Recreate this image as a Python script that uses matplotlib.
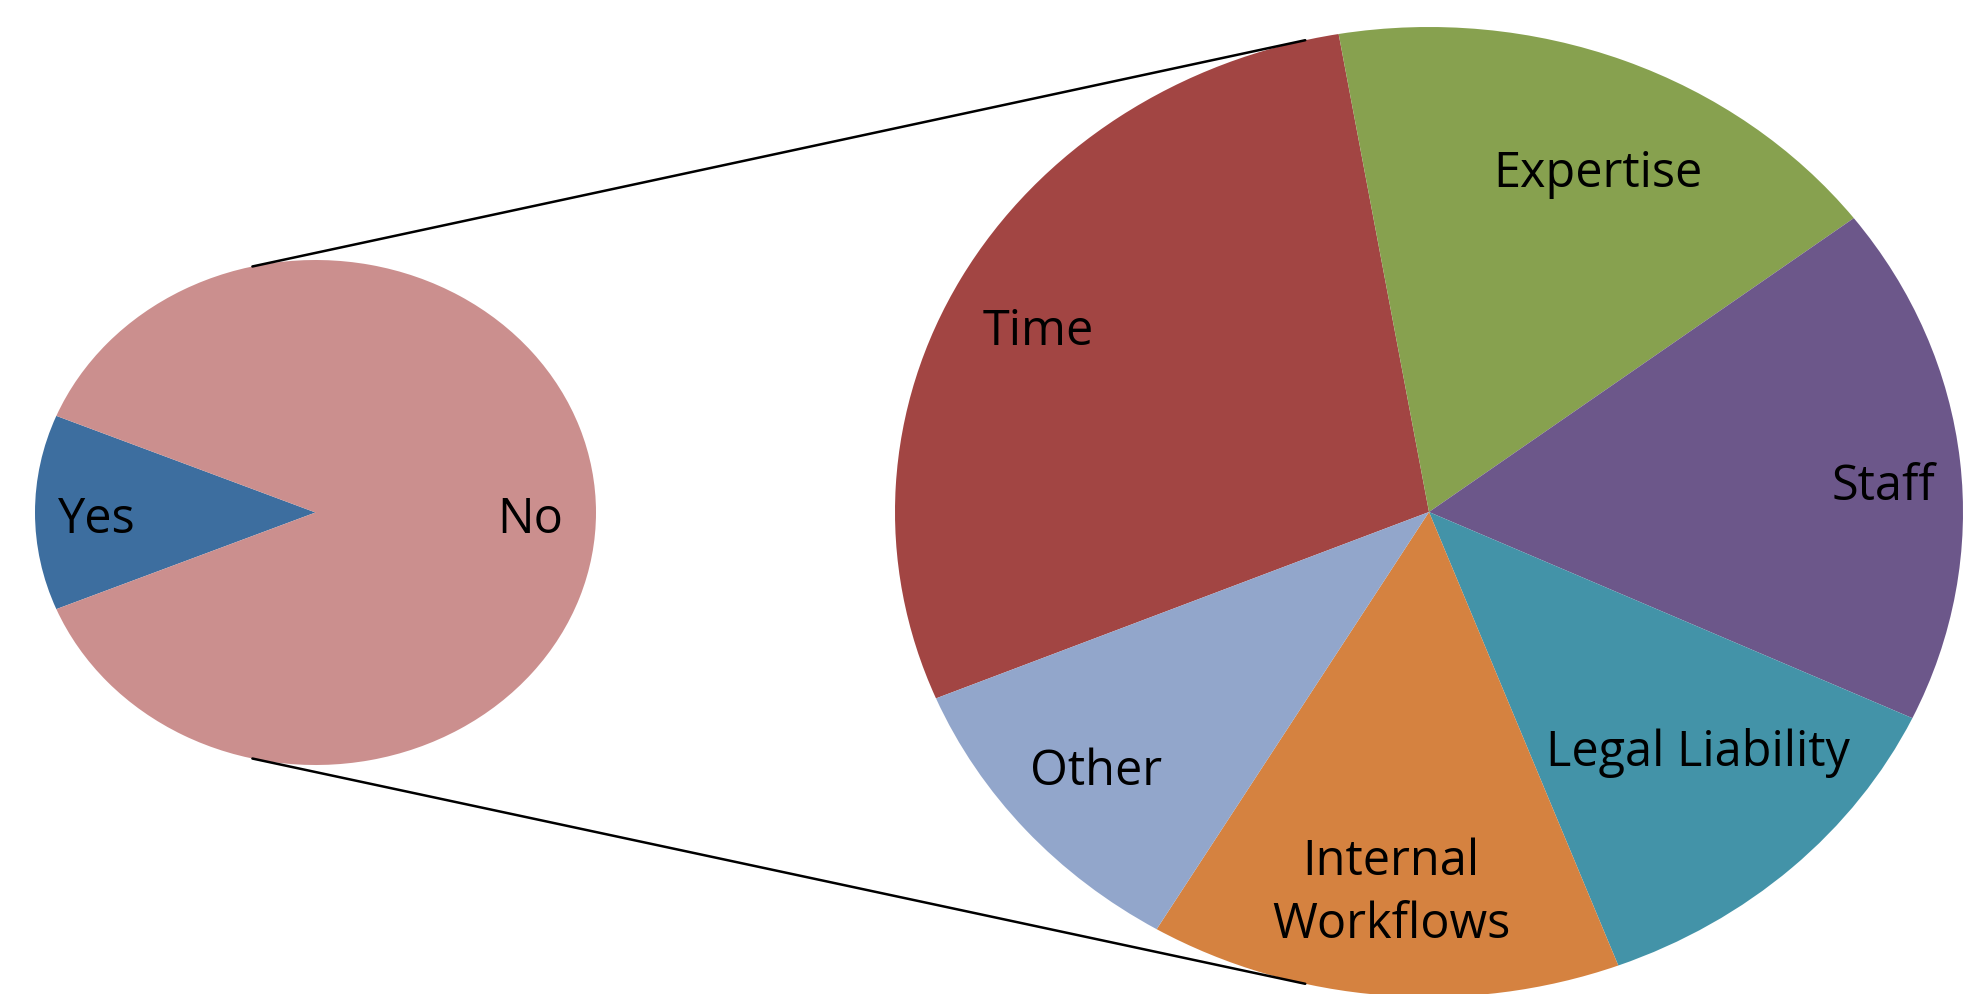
import matplotlib
matplotlib.use('Agg')
import matplotlib.pyplot as plt
from matplotlib.patches import ConnectionPatch
import numpy as np

# first pie
answer_labels = ['Yes', 'No']
answer_counts = [14, 98]
answer_colors = ['#3D6E9F', '#CB8F8E']

# second pie: breakdown of the "No" slice
reason_labels = ['Time', 'Expertise', 'Staff', 'Legal Liability',
                 'Internal\nWorkflows', 'Other']
reason_counts = [28, 17, 17, 12, 14, 10]
reason_colors = ['#A24543', '#87A14F', '#6C578A', '#4393A8', '#D58240', '#92A6CB']

# label placement: fraction of radius + small angle nudge (deg) from slice middle
answer_label_r = [0.78, 0.765]
answer_label_nudge = [2.4, -2.4]
reason_label_r = [0.821, 0.764, 0.852, 0.707, 0.79, 0.823]
reason_label_nudge = [2.0, -2.9, -2.7, 2.6, -0.2, -0.2]

plt.rcParams['font.family'] = ['Open Sans', 'DejaVu Sans']

W, H = 1963, 994
fig = plt.figure(figsize=(W / 100, H / 100), dpi=100)


def pie_axes(cx, cy, rx, ry):
    # axes box in pixels -> the pie fills it as an ellipse
    return fig.add_axes([(cx - rx) / W, (H - cy - ry) / H, 2 * rx / W, 2 * ry / H])


def put_labels(ax, wedges, labels, dists, nudges):
    for w, lab, d, n in zip(wedges, labels, dists, nudges):
        a = np.deg2rad((w.theta1 + w.theta2) / 2 + n)
        ax.text(d * np.cos(a), d * np.sin(a), lab, ha='center', va='center',
                fontsize=35, linespacing=1.35)


ax1 = pie_axes(315.5, 512.5, 280.5, 252.5)
ax2 = pie_axes(1429, 512, 534, 485)

w1, _ = ax1.pie(answer_counts, colors=answer_colors, startangle=157.5,
                wedgeprops=dict(linewidth=0))
w2, _ = ax2.pie(reason_counts, colors=reason_colors, startangle=202.6,
                counterclock=False, wedgeprops=dict(linewidth=0))

for ax in (ax1, ax2):
    ax.set_aspect('auto')
    ax.set_xlim(-1, 1)
    ax.set_ylim(-1, 1)
    ax.axis('off')

put_labels(ax1, w1, answer_labels, answer_label_r, answer_label_nudge)
put_labels(ax2, w2, reason_labels, reason_label_r, reason_label_nudge)

# connector lines between the two pies
for sign in (1, -1):
    a1 = np.deg2rad(sign * 103)
    a2 = np.deg2rad(sign * 103.4)
    con = ConnectionPatch(xyA=(np.cos(a1), np.sin(a1)), coordsA=ax1.transData,
                          xyB=(np.cos(a2), np.sin(a2)), coordsB=ax2.transData,
                          color='black', lw=1.8)
    fig.add_artist(con)

fig.savefig('out.png', dpi=100)
